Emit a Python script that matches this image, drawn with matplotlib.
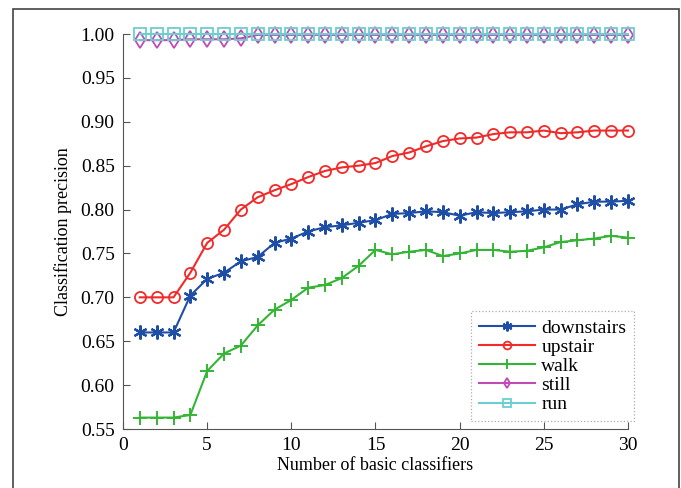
import numpy as np
import matplotlib
matplotlib.use('Agg')
import matplotlib.pyplot as plt
from matplotlib.patches import Rectangle

# number of basic classifiers
n_clf = list(range(1, 31))

downstairs = [0.660, 0.660, 0.660, 0.702, 0.721, 0.728, 0.741, 0.746, 0.762, 0.767,
              0.775, 0.780, 0.782, 0.785, 0.788, 0.795, 0.796, 0.798, 0.797, 0.793,
              0.797, 0.796, 0.797, 0.798, 0.800, 0.800, 0.806, 0.809, 0.809, 0.810]
upstair = [0.700, 0.700, 0.700, 0.728, 0.762, 0.777, 0.800, 0.814, 0.822, 0.829,
           0.837, 0.844, 0.848, 0.850, 0.853, 0.861, 0.865, 0.872, 0.878, 0.881,
           0.882, 0.886, 0.888, 0.888, 0.890, 0.887, 0.888, 0.890, 0.890, 0.890]
walk = [0.563, 0.563, 0.563, 0.566, 0.616, 0.636, 0.645, 0.668, 0.686, 0.697,
        0.711, 0.714, 0.722, 0.736, 0.754, 0.749, 0.752, 0.754, 0.747, 0.750,
        0.754, 0.754, 0.752, 0.753, 0.757, 0.763, 0.765, 0.767, 0.770, 0.768]
still = [0.993, 0.993, 0.993, 0.994, 0.994, 0.994, 0.995, 0.999, 0.999, 0.999,
         0.999, 0.999, 0.999, 0.999, 0.999, 0.999, 0.999, 0.999, 0.999, 0.999,
         0.999, 0.999, 0.999, 0.999, 0.999, 0.999, 0.999, 0.999, 0.999, 0.999]
run = [1.0] * 30

series = [
    ('downstairs', downstairs, '#1f4ea6', (6, 2, 0)),
    ('upstair', upstair, '#f22a2a', 'o'),
    ('walk', walk, '#35b535', '+'),
    ('still', still, '#c04bb4', 'd'),
    ('run', run, '#6ccfcf', 's'),
]

plt.rcParams['font.family'] = ['Liberation Serif', 'DejaVu Serif']

fig = plt.figure(figsize=(6.81, 4.88), dpi=100)
ax = fig.add_axes([123 / 681, 1 - 429 / 488, 505 / 681, 395 / 488])

# outer frame around the whole figure
fig.patches.append(Rectangle((13 / 681, -0.05), 666 / 681, 1.05 - 9 / 488,
                             transform=fig.transFigure, fill=False,
                             edgecolor='#444444', linewidth=1.2))

for name, vals, col, mk in series:
    if mk == '+':
        ax.plot(n_clf, vals, color=col, marker=mk, markersize=10, markeredgewidth=1.4,
                linewidth=1.5, label=name, clip_on=False)
    elif mk in ('o', 'd', 's'):
        ax.plot(n_clf, vals, color=col, marker=mk, markersize=8, markerfacecolor='none',
                markeredgewidth=1.3, linewidth=1.5, label=name, clip_on=False)
    else:
        ax.plot(n_clf, vals, color=col, marker=mk, markersize=10, markeredgewidth=1.6,
                linewidth=1.5, label=name, clip_on=False)

ax.set_xlim(0, 30)
ax.set_ylim(0.55, 1.0)
ax.set_xticks([0, 5, 10, 15, 20, 25, 30])
ax.set_yticks(np.arange(0.55, 1.001, 0.05))
ax.set_yticklabels([f'{v:.2f}' for v in np.arange(0.55, 1.001, 0.05)])
ax.tick_params(direction='in', labelsize=14, length=5, color='#555555', pad=6)
ax.spines['top'].set_visible(False)
ax.spines['right'].set_visible(False)
ax.spines['left'].set_color('#555555')
ax.spines['bottom'].set_color('#555555')

ax.set_xlabel('Number of basic classifiers', fontsize=13, labelpad=2)
ax.set_ylabel('Classification precision', fontsize=13, labelpad=6)

leg = ax.legend(loc='lower right', bbox_to_anchor=(1.012, 0.02), fontsize=14,
                fancybox=False, handlelength=2.9, borderpad=0.4, labelspacing=0.08,
                handletextpad=0.3, borderaxespad=0, markerscale=0.7)
leg.get_frame().set_edgecolor('#999999')
leg.get_frame().set_linestyle(':')
leg.get_frame().set_linewidth(0.9)

fig.savefig('out.png', dpi=100)
